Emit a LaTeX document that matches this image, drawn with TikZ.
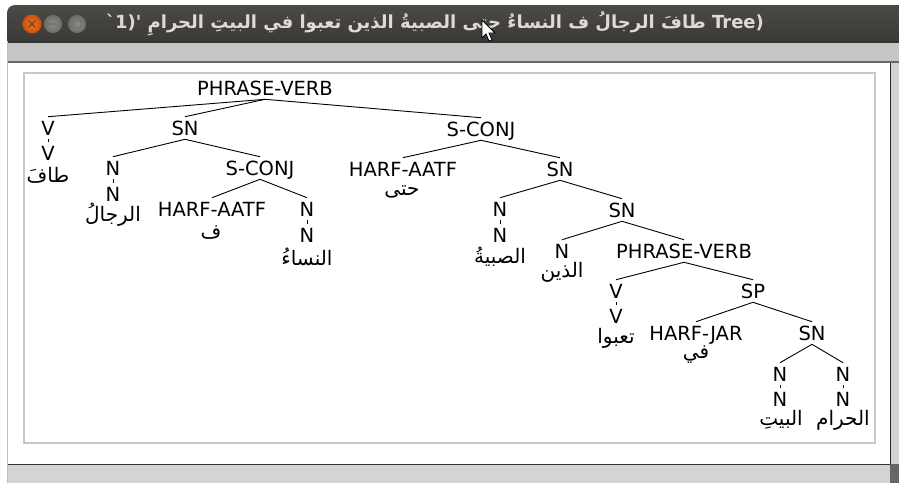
\documentclass[tikz,border=0pt]{standalone}
\usepackage{fontspec}
\setmainfont{DejaVu Sans}
\newfontfamily\arabicfont[Script=Arabic]{DejaVu Sans}
\newfontfamily\titlefont{DejaVu Sans}
\TeXXeTstate=1
\definecolor{tbtop}{HTML}{4B4A46}
\definecolor{tbbot}{HTML}{3A3935}
\definecolor{titletext}{HTML}{DFDBD2}
\definecolor{strip}{HTML}{C6C6C6}
\definecolor{framegray}{HTML}{C8C8C8}
\definecolor{scroll}{HTML}{D4D4D4}
\definecolor{closeor}{HTML}{E2561D}
\definecolor{btngray}{HTML}{6E6D68}
\tikzset{
  lbl/.style={inner xsep=0pt, inner ysep=4pt, text height=14.2pt, text depth=0pt,
    font=\fontsize{19.5}{20}\selectfont},
  word/.style={inner sep=0pt, font=\fontsize{20}{22}\arabicfont},
  edge/.style={draw=black, line width=0.9pt}
}
\begin{document}
\begin{tikzpicture}[x=1pt,y=-1pt]
\useasboundingbox (0,0) rectangle (899,483);
\fill[white] (0,0) rectangle (899,483);
% window frame
\shade[top color=tbtop,bottom color=tbbot] (7,42) [rounded corners=8pt] -- (7,5) -- (910,5) [sharp corners] -- (910,42) -- cycle;
\fill[black!80] (7,41) rectangle (899,43);
\fill[strip] (7,43) rectangle (899,61);
\fill[black!60] (7,61) rectangle (899,62.5);
\fill[white] (8,62.5) rectangle (890,464);
\draw[black!25, line width=1pt] (7.5,41) -- (7.5,483);
% right scrollbar
\fill[scroll] (890,62.5) rectangle (899,483);
\draw[black!85, line width=1.2pt] (890.5,62.5) -- (890.5,483);
% bottom scrollbar
\fill[scroll] (8,464) rectangle (890,483);
\draw[black!80, line width=1.2pt] (8,464.5) -- (890,464.5);
\fill[black!60] (890,464) rectangle (899,483);
% inner frame
\draw[framegray, line width=1.2pt] (24,73) rectangle (875,443);
% buttons
\shade[inner color=orange!90!red, outer color=closeor!90!black] (32,24) circle (9.5);
\draw[black!70, line width=1.3pt] (29,21) -- (35,27) (29,27) -- (35,21);
\shade[inner color=btngray!80!white, outer color=btngray] (53,24) circle (9);
\draw[black!55, line width=1.5pt] (49,24) -- (57,24);
\shade[inner color=btngray!80!white, outer color=btngray] (77,24) circle (9);
\draw[black!55, line width=1.2pt] (73.5,20.5) rectangle (80.5,27.5);
% title
\node[text=titletext, inner sep=0pt, font=\fontsize{18}{20}\titlefont\bfseries] (title) at (435,24)
 {`1)'\ {\arabicfont\bfseries\beginR طافَ الرجالُ ف النساءُ حتى الصبيةُ الذين تعبوا في البيتِ الحرامِ\endR}\ Tree)};
% cursor
\filldraw[fill=white, draw=black, line width=0.8pt] (482,20) -- (482,38) -- (486,34) -- (489,41) -- (492,40) -- (489,33) -- (495,33) -- cycle;
% tree
\node[lbl] (r) at (265,88) {PHRASE-VERB};
\node[lbl] (v1a) at (48,128) {V};
\node[lbl] (v1b) at (48,153) {V};
\node[word] (w1) at (48,175) {\beginR طافَ\endR};
\node[lbl] (sn1) at (185,128) {SN};
\node[lbl] (n1a) at (113,168) {N};
\node[lbl] (n1b) at (113,194) {N};
\node[word] (w2) at (113,215) {\beginR الرجالُ\endR};
\node[lbl] (sc1) at (260,168) {S-CONJ};
\node[lbl] (h1) at (212,209) {HARF-AATF};
\node[word] (w3) at (211,233) {\beginR ف\endR};
\node[lbl] (n2a) at (307,209) {N};
\node[lbl] (n2b) at (307,235) {N};
\node[word] (w4) at (307,257) {\beginR النساءُ\endR};
\node[lbl] (sc2) at (481,129) {S-CONJ};
\node[lbl] (h2) at (403,169) {HARF-AATF};
\node[word] (w5) at (402,192) {\beginR حتى\endR};
\node[lbl] (sn2) at (560,169) {SN};
\node[lbl] (n3a) at (500,209) {N};
\node[lbl] (n3b) at (500,235) {N};
\node[word] (w6) at (500,257) {\beginR الصبيةُ\endR};
\node[lbl] (sn3) at (622,210) {SN};
\node[lbl] (n4) at (562,251) {N};
\node[word] (w7) at (562,272) {\beginR الذين\endR};
\node[lbl] (pv) at (684,251) {PHRASE-VERB};
\node[lbl] (v2a) at (616,291) {V};
\node[lbl] (v2b) at (616,316) {V};
\node[word] (w8) at (616,338) {\beginR تعبوا\endR};
\node[lbl] (sp) at (753,291) {SP};
\node[lbl] (hj) at (696,333) {HARF-JAR};
\node[word] (w9) at (696,355) {\beginR في\endR};
\node[lbl] (sn4) at (812,333) {SN};
\node[lbl] (n5a) at (780,374) {N};
\node[lbl] (n5b) at (780,399) {N};
\node[word] (w10) at (781,420) {\beginR البيتِ\endR};
\node[lbl] (n6a) at (843,374) {N};
\node[lbl] (n6b) at (843,399) {N};
\node[word] (w11) at (843,420) {\beginR الحرام\endR};
\foreach \p/\c in {r/v1a, r/sn1, r/sc2, v1a/v1b, sn1/n1a, sn1/sc1, n1a/n1b, sc1/h1, sc1/n2a, n2a/n2b,
  sc2/h2, sc2/sn2, sn2/n3a, sn2/sn3, n3a/n3b, sn3/n4, sn3/pv, pv/v2a, pv/sp, v2a/v2b,
  sp/hj, sp/sn4, sn4/n5a, sn4/n6a, n5a/n5b, n6a/n6b}
  \draw[edge] (\p.south) -- (\c.north);
\end{tikzpicture}
\end{document}
